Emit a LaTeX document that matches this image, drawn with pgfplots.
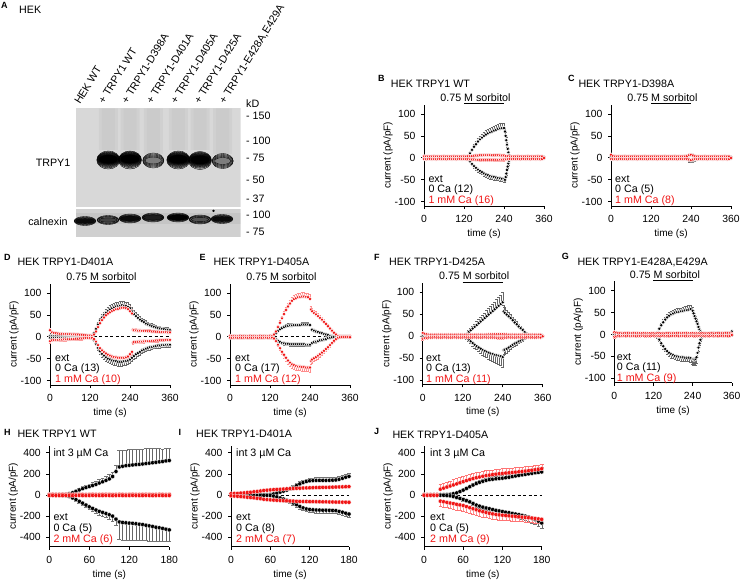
\documentclass[border=0pt]{standalone}
\usepackage{fontspec}
\setmainfont{Liberation Sans}
\usepackage{pgfplots}
\pgfplotsset{compat=1.18}
\usepackage{pgfplotstable}
\definecolor{blotbg}{RGB}{216,216,216}
\definecolor{blotbgb}{RGB}{208,208,208}
\definecolor{smear}{RGB}{200,200,200}
\definecolor{myred}{RGB}{240,20,20}
\newcommand{\fs}{\fontsize{10.7}{12.5}\selectfont}
\newcommand{\ft}{\fontsize{10.4}{12}\selectfont}
\newcommand{\fa}{\fontsize{10}{12}\selectfont}
\newcommand{\fl}{\fontsize{9}{10}\selectfont\bfseries}

\pgfplotsset{
 base/.style={scale only axis, anchor=south west, clip=false,
   axis x line*=bottom, axis y line*=left,
   axis line style={-, line width=0.6pt},
   tick align=outside, major tick length=3pt,
   tick style={line width=0.6pt, black},
   /pgf/number format/assume math mode=true,
   tick label style={font=\ft},
   xticklabel style={yshift=-3pt},
   yticklabel style={xshift=-2pt},
   every axis x label/.style={at={(axis description cs:0.5,0)}, yshift=-28pt, anchor=center, font=\fa},
   every axis y label/.style={at={(axis description cs:0,0.5)}, xshift=-36pt, rotate=90, anchor=center, font=\fa},
   xlabel={time (s)}, ylabel={current (pA/pF)}},
 sorb/.style={base, height=101.3pt, xmin=0, xmax=360, ymin=-110, ymax=121,
   xtick={0,120,240,360}, ytick={-100,-50,0,50,100}},
 ramp/.style={base, height=100.7pt, xmin=0, xmax=180, ymin=-489, ymax=463,
   xtick={0,60,120,180}, ytick={-400,-200,0,200,400}},
 blk/.style={only marks, mark=*, mark size=1.9pt, black,
   mark options={fill=black, draw=white, line width=0.45pt},
   error bars/y explicit,
   error bars/error bar style={black!60, line width=0.35pt},
   error bars/error mark options={rotate=90, black!60, line width=0.35pt, mark size=1.3pt}},
 rd/.style={only marks, mark=*, mark size=1.9pt, myred,
   mark options={fill=myred, draw=white, line width=0.45pt},
   error bars/y explicit,
   error bars/error bar style={red!45, line width=0.35pt},
   error bars/error mark options={rotate=90, red!45, line width=0.35pt, mark size=1.3pt}},
 blkr/.style={blk, mark size=2.1pt, mark options={fill=black, draw=white, line width=0.25pt}, error bars/error mark options={rotate=90, black!55, line width=0.35pt, mark size=1.8pt}},
 rdr/.style={rd, mark size=2.1pt, mark options={fill=myred, draw=white, line width=0.25pt}, error bars/error mark options={rotate=90, red!55, line width=0.35pt, mark size=1.8pt}},
 bl/.style n args={3}{only marks, mark=*, black, mark size=#1, mark options={xscale=#2, draw=none, fill=black, fill opacity=#3}},
}

\newcommand{\plotpair}[4]{%
\addplot[#3, error bars/y dir=plus] table[x=t,y=u,y error=ue]{#1};
\addplot[#3, error bars/y dir=minus] table[x=t,y=d,y error=de]{#1};
\addplot[#4, error bars/y dir=plus] table[x=t,y=u,y error=ue]{#2};
\addplot[#4, error bars/y dir=minus] table[x=t,y=d,y error=de]{#2};
}
\newcommand{\sorbbar}{%
\addplot[black, line width=1pt, no marks] coordinates {(120,123) (240,123)};
\node[font=\fs, anchor=base west, inner sep=0pt, xshift=-23.8pt, yshift=2.5pt] at (axis cs:120,123) {0.75 M sorbitol};
}
\newcommand{\zeroline}[1]{\addplot[black, line width=0.7pt, no marks, dash pattern=on 3pt off 2.5pt] coordinates {(0,0) (#1,0)};}

% ---------------- data ----------------
\pgfplotstableread{
t u ue d de
0 1.5 2 -1.5 2
6 1.2 2 -1.4 2
12 1.4 2 -1.3 2
18 1.3 2 -1.5 2
24 1.5 2 -1.2 2
30 1.2 2 -1.4 2
36 1.4 2 -1.3 2
42 1.3 2 -1.5 2
48 1.5 2 -1.2 2
54 1.2 2 -1.4 2
60 1.4 2 -1.3 2
66 1.3 2 -1.5 2
72 1.5 2 -1.2 2
78 1.2 2 -1.4 2
84 1.4 2 -1.3 2
90 1.3 2 -1.5 2
96 1.5 2 -1.2 2
102 1.2 2 -1.4 2
108 1.4 2 -1.3 2
114 1.3 2 -1.5 2
120 1.5 2 -1.2 2
126 2 2 -2 2
132 3 2 -3 2
138 10 3 -8 3
144 18 4 -14 4
150 25 5 -19 4
156 31 6 -23 5
162 37 7 -27 5
168 42 8 -30 5
174 46 8 -33 5
180 50 9 -36 6
186 53 9 -38 6
192 56 10 -40 6
198 58 10 -42 6
204 60 10 -43 6
210 62 10 -44 6
216 64 11 -45 6
222 66 11 -46 6
228 67 11 -47 6
234 68 11 -48 6
240 68 11 -49 6
243 60 10 -50 6
245 50 8 -44 5
247 40 6 -36 4
249 30 5 -28 4
251 20 4 -20 3
253 12 3 -13 3
255 6 2 -7 2
258 2 2 -2 2
264 1.5 2 -1.5 2
270 1.3 2 -1.3 2
276 1.4 2 -1.4 2
282 1.2 2 -1.3 2
288 1.4 2 -1.2 2
294 1.3 2 -1.4 2
300 1.2 2 -1.3 2
306 1.4 2 -1.2 2
312 1.3 2 -1.4 2
318 1.2 2 -1.3 2
324 1.4 2 -1.2 2
330 1.3 2 -1.4 2
336 1.2 2 -1.3 2
342 1.4 2 -1.2 2
348 1.3 2 -1.4 2
354 1.2 2 -1.3 2
360 1.0 2 -1.0 2
}\Bk
\pgfplotstableread{
t u ue d de
0 3.2 2 -3.0 2
6 3.0 2 -3.2 2
12 2.8 2 -3.0 2
18 3.1 2 -2.9 2
24 2.9 2 -3.1 2
30 3.2 2 -3.0 2
36 3.0 2 -3.2 2
42 2.8 2 -3.0 2
48 3.1 2 -2.9 2
54 2.9 2 -3.1 2
60 3.2 2 -3.0 2
66 3.0 2 -3.2 2
72 2.8 2 -3.0 2
78 3.1 2 -2.9 2
84 2.9 2 -3.1 2
90 3.2 2 -3.0 2
96 3.0 2 -3.2 2
102 2.8 2 -3.0 2
108 3.1 2 -2.9 2
114 2.9 2 -3.1 2
120 3.2 2 -3.0 2
126 3.0 2 -3.2 2
132 3.4 2 -3.4 2
138 3.8 2 -3.6 2
144 4.2 2 -3.8 2
150 4.6 3 -4.0 2
156 5.0 3 -4.2 2
162 5.3 3 -4.4 2
168 5.6 3 -4.5 3
174 5.8 3 -4.6 3
180 6.0 3 -4.6 3
186 6.0 3 -4.6 3
192 6.0 3 -4.6 3
198 6.0 3 -4.6 3
204 5.9 3 -4.6 3
210 5.8 3 -4.5 3
216 5.7 3 -4.5 3
222 5.6 3 -4.4 3
228 5.5 3 -4.3 3
234 5.3 3 -4.2 3
240 5.0 3 -4.0 3
246 4.2 2 -3.6 2
252 3.6 2 -3.2 2
258 3.2 2 -3.0 2
264 3.0 2 -3.1 2
270 3.1 2 -2.9 2
276 2.9 2 -3.1 2
282 3.2 2 -3.0 2
288 3.0 2 -3.2 2
294 2.8 2 -3.0 2
300 3.1 2 -2.9 2
306 2.9 2 -3.1 2
312 3.2 2 -3.0 2
318 3.0 2 -3.2 2
324 2.8 2 -3.0 2
330 3.1 2 -2.9 2
336 2.9 2 -3.1 2
342 3.2 2 -3.0 2
348 3.0 2 -3.2 2
354 2.8 2 -3.0 2
360 0.5 1 -0.5 1
}\Br
\pgfplotstableread{
t u ue d de
0 2.4 3 -2.2 3
6 2.2 3 -2.4 3
12 2.0 3 -2.2 3
18 2.3 3 -2.1 3
24 2.1 3 -2.3 3
30 2.4 3 -2.2 3
36 2.2 3 -2.4 3
42 2.0 3 -2.2 3
48 2.3 3 -2.1 3
54 2.1 3 -2.3 3
60 2.4 3 -2.2 3
66 2.2 3 -2.4 3
72 2.0 3 -2.2 3
78 2.3 3 -2.1 3
84 2.1 3 -2.3 3
90 2.4 3 -2.2 3
96 2.2 3 -2.4 3
102 2.0 3 -2.2 3
108 2.3 3 -2.1 3
114 2.1 3 -2.3 3
120 2.4 3 -2.2 3
126 2.2 3 -2.4 3
132 2.0 3 -2.2 3
138 2.3 3 -2.1 3
144 2.1 3 -2.3 3
150 2.4 3 -2.2 3
156 2.2 3 -2.4 3
162 2.0 3 -2.2 3
168 2.3 3 -2.1 3
174 2.1 3 -2.3 3
180 2.4 3 -2.2 3
186 2.2 3 -2.4 3
192 2.0 3 -2.2 3
198 2.3 3 -2.1 3
204 2.1 3 -2.3 3
210 2.4 3 -2.2 3
216 2.2 3 -2.4 3
222 2.5 3 -2.5 3
228 3 3 -3 3
234 5 4 -5 4
240 6 4 -6 4
246 5 4 -6 4
252 3 3 -4 3
258 2 2 -2 2
264 1.5 2 -1.5 2
270 1.4 2 -1.6 2
276 1.6 2 -1.4 2
282 1.5 2 -1.5 2
288 1.4 2 -1.6 2
294 1.6 2 -1.4 2
300 1.5 2 -1.5 2
306 1.4 2 -1.6 2
312 1.6 2 -1.4 2
318 1.5 2 -1.5 2
324 1.4 2 -1.6 2
330 1.6 2 -1.4 2
336 1.5 2 -1.5 2
342 1.4 2 -1.6 2
348 1.6 2 -1.4 2
354 1.5 2 -1.5 2
360 1.0 2 -1.0 2
}\Ck
\pgfplotstableread{
t u ue d de
0 7 2 -3 2
6 4 2 -3.5 2
12 3.2 2 -3.0 2
18 3.0 2 -3.2 2
24 2.8 2 -3.0 2
30 3.1 2 -2.9 2
36 2.9 2 -3.1 2
42 3.2 2 -3.0 2
48 3.0 2 -3.2 2
54 2.8 2 -3.0 2
60 3.1 2 -2.9 2
66 2.9 2 -3.1 2
72 3.2 2 -3.0 2
78 3.0 2 -3.2 2
84 2.8 2 -3.0 2
90 3.1 2 -2.9 2
96 2.9 2 -3.1 2
102 3.2 2 -3.0 2
108 3.0 2 -3.2 2
114 2.8 2 -3.0 2
120 3.1 2 -2.9 2
126 2.9 2 -3.1 2
132 3.2 2 -3.0 2
138 3.0 2 -3.2 2
144 2.8 2 -3.0 2
150 3.1 2 -2.9 2
156 2.9 2 -3.1 2
162 3.2 2 -3.0 2
168 3.0 2 -3.2 2
174 2.8 2 -3.0 2
180 3.1 2 -2.9 2
186 2.9 2 -3.1 2
192 3.2 2 -3.0 2
198 3.0 2 -3.2 2
204 2.8 2 -3.0 2
210 3.1 2 -2.9 2
216 2.9 2 -3.1 2
222 3.2 2 -3.0 2
228 4 2 -3.5 2
234 6 3 -4 3
240 7 3 -5 3
246 5 3 -4 3
252 3.5 2 -3 2
258 3.0 2 -3.2 2
264 2.8 2 -3.0 2
270 3.1 2 -2.9 2
276 2.9 2 -3.1 2
282 3.2 2 -3.0 2
288 3.0 2 -3.2 2
294 2.8 2 -3.0 2
300 3.1 2 -2.9 2
306 2.9 2 -3.1 2
312 3.2 2 -3.0 2
318 3.0 2 -3.2 2
324 2.8 2 -3.0 2
330 3.1 2 -2.9 2
336 2.9 2 -3.1 2
342 3.2 2 -3.0 2
348 3.0 2 -3.2 2
354 2.8 2 -3.0 2
360 0.5 1 -0.5 1
}\Cr
\pgfplotstableread{
t u ue d de
0 2 2 -2 2
6 2 2 -2 2
12 2 2 -2 2
18 2 2 -2 2
24 2 2 -2 2
30 2 2 -2 2
36 2 2 -2 2
42 2 2 -2 2
48 2 2 -2 2
54 2 2 -2 2
60 2 2 -2 2
66 2 2 -2 2
72 2 2 -2 2
78 2 2 -2 2
84 2 2 -2 2
90 2 2 -2 2
96 2 2 -2 2
102 2 2 -2 2
108 2 2 -2 2
114 2 2 -2 2
120 2 2 -2 2
126 3 2 -3 2
132 8 3 -8 3
138 18 4 -16 4
144 28 5 -25 5
150 37 6 -33 6
156 44 7 -39 7
162 50 7 -43 7
168 55 8 -47 8
174 59 8 -50 8
180 62 9 -52 8
186 65 9 -54 9
192 67 9 -55 9
198 69 9 -56 9
204 70 10 -57 9
210 71 10 -57 9
216 72 10 -57 9
222 71 10 -56 9
228 70 10 -55 9
234 68 10 -54 9
240 65 10 -52 9
246 58 9 -48 8
252 52 9 -44 8
258 47 8 -40 8
264 43 8 -37 7
270 39 8 -34 7
276 36 7 -31 7
282 33 7 -29 6
288 30 7 -27 6
294 28 6 -25 6
300 26 6 -24 6
306 24 6 -23 5
312 23 6 -22 5
318 21 5 -21 5
324 20 5 -20 5
330 19 5 -20 5
336 18 5 -19 5
342 17 5 -19 5
348 16 5 -18 5
354 16 5 -18 5
360 15 5 -18 5
}\Dk
\pgfplotstableread{
t u ue d de
0 15 4 -10 4
6 10 3 -8 3
12 8.5 3 -7.5 3
18 8 3 -7 3
24 7.5 3 -7 3
30 7 3 -6.5 3
36 7 3 -6.5 3
42 6.5 3 -6 3
48 6.5 3 -6 3
54 6 3 -5.5 3
60 6 3 -5.5 3
66 5.5 3 -5 3
72 5.5 3 -5 3
78 5 3 -4.5 3
84 5 3 -4.5 3
90 4.5 3 -4 3
96 4.5 3 -4 3
102 4 3 -3.5 3
108 3.5 3 -3 3
114 3 3 -3 3
120 3 3 -2.5 3
126 2.5 3 -2.5 3
132 5 3 -5 3
138 12 4 -11 4
144 22 5 -19 4
150 31 6 -26 5
156 38 7 -31 5
162 44 7 -35 6
168 49 8 -38 6
174 53 8 -41 6
180 56 8 -43 7
186 59 9 -45 7
192 61 9 -46 7
198 63 9 -47 7
204 64 9 -48 7
210 65 9 -48 7
216 66 9 -48 7
222 66 9 -48 7
228 65 9 -47 7
234 63 10 -45 7
240 58 12 -40 8
246 53 10 -34 8
249 16 4 -13 3
252 15 4 -12 3
258 14.5 4 -12 3
264 14 4 -11.5 3
270 14 4 -11 3
276 13.5 4 -11 3
282 13 4 -10.5 3
288 13 4 -10 3
294 12.5 4 -10 3
300 12.5 4 -9.5 3
306 12 4 -9 3
312 12 4 -9 3
318 11.5 4 -8.5 3
324 11.5 4 -8.5 3
330 11 4 -8 3
336 11 4 -8 3
342 10.5 4 -8 3
348 10.5 4 -7.5 3
354 10 4 -7.5 3
360 10 4 -7 3
}\Dr
\pgfplotstableread{
t u ue d de
0 1.5 2 -1.5 2
6 1.5 2 -1.5 2
12 1.5 2 -1.5 2
18 1.5 2 -1.5 2
24 1.5 2 -1.5 2
30 1.5 2 -1.5 2
36 1.5 2 -1.5 2
42 1.5 2 -1.5 2
48 1.5 2 -1.5 2
54 1.5 2 -1.5 2
60 1.5 2 -1.5 2
66 1.5 2 -1.5 2
72 1.5 2 -1.5 2
78 1.5 2 -1.5 2
84 1.5 2 -1.5 2
90 1.5 2 -1.5 2
96 1.5 2 -1.5 2
102 1.5 2 -1.5 2
108 1.5 2 -1.5 2
114 1.5 2 -1.5 2
120 1.5 2 -1.5 2
126 2 2 -2 2
132 4 2 -3 2
138 8 3 -6 2
144 13 3 -9 3
150 17 4 -12 3
156 20 4 -14 3
162 22 5 -15 4
168 24 5 -16 4
174 25 5 -16 4
180 26 5 -17 4
186 26 5 -17 4
192 27 5 -17 4
198 27 5 -17 4
204 27 5 -17 4
210 27 5 -17 4
216 28 5 -17 4
222 28 5 -17 4
228 28 5 -18 4
234 28 5 -18 4
240 27 5 -18 4
246 16 4 -14 3
252 14 4 -12 3
258 12 3 -11 3
264 11 3 -10 3
270 9 3 -8 3
276 8 3 -7 2
282 6 2 -6 2
288 5 2 -5 2
294 4 2 -3 2
300 2 2 -2 2
306 1 2 -1 2
312 0.5 2 -0.5 2
318 0.5 2 -0.5 2
324 0.5 2 -0.5 2
330 0.5 2 -0.5 2
336 0.5 2 -0.5 2
342 0.5 2 -0.5 2
348 0.5 2 -0.5 2
354 0.5 2 -0.5 2
360 0.5 2 -0.5 2
}\Ek
\pgfplotstableread{
t u ue d de
0 2.2 2 -2.0 2
6 2.0 2 -2.2 2
12 1.8 2 -2.0 2
18 2.1 2 -1.9 2
24 1.9 2 -2.1 2
30 2.2 2 -2.0 2
36 2.0 2 -2.2 2
42 1.8 2 -2.0 2
48 2.1 2 -1.9 2
54 1.9 2 -2.1 2
60 2.2 2 -2.0 2
66 2.0 2 -2.2 2
72 1.8 2 -2.0 2
78 2.1 2 -1.9 2
84 1.9 2 -2.1 2
90 2.2 2 -2.0 2
96 2.0 2 -2.2 2
102 1.8 2 -2.0 2
108 2.1 2 -1.9 2
114 1.9 2 -2.1 2
120 2.2 2 -2.0 2
126 2 2 -2 2
132 5 2 -4 2
138 12 3 -10 3
144 22 4 -18 4
150 32 5 -26 5
156 42 6 -34 6
162 52 7 -41 7
168 61 7 -48 7
174 69 8 -54 8
180 76 8 -59 8
186 82 9 -63 8
192 86 9 -65 9
198 88 9 -67 9
204 90 9 -68 9
210 91 9 -68 9
216 92 9 -69 9
222 92 9 -69 9
228 91 9 -70 9
234 90 9 -70 9
240 86 10 -70 10
243 62 8 -55 8
246 58 8 -52 8
252 54 7 -49 7
258 51 7 -46 7
264 47 7 -43 7
270 43 6 -40 6
276 39 6 -36 6
282 34 6 -32 6
288 29 5 -28 5
294 24 5 -24 5
300 19 4 -19 4
306 14 4 -14 4
312 9 3 -9 3
318 5 3 -5 3
324 2 2 -2 2
330 1 2 -1 2
336 0.5 2 -0.5 2
342 0.5 2 -0.5 2
348 0.5 2 -0.5 2
354 0.5 2 -0.5 2
360 1 2 -1 2
}\Er
\pgfplotstableread{
t u ue d de
0 1 2 -1 2
6 1 2 -1 2
12 1 2 -1 2
18 1 2 -1 2
24 1 2 -1 2
30 1 2 -1 2
36 1 2 -1 2
42 1 2 -1 2
48 1 2 -1 2
54 1 2 -1 2
60 1 2 -1 2
66 1 2 -1 2
72 1 2 -1 2
78 1 2 -1 2
84 1 2 -1 2
90 1 2 -1 2
96 1 2 -1 2
102 1 2 -1 2
108 1 2 -1 2
114 1 2 -1 2
120 1 2 -1 2
126 1.5 2 -1.5 2
132 4 3 -4 3
138 9 4 -8 4
144 13 5 -12 5
150 17 6 -16 6
156 21 7 -20 7
162 25 8 -23 8
168 29 9 -26 9
174 33 10 -29 10
180 37 11 -32 11
186 41 12 -34 12
192 45 13 -36 13
198 49 14 -38 14
204 53 15 -40 15
210 57 16 -41 16
216 61 17 -43 17
222 65 18 -44 18
228 69 20 -45 19
234 73 21 -46 20
240 77 22 -48 22
243 56 14 -32 12
246 53 12 -31 10
252 49 11 -29 9
258 45 10 -26 8
264 41 9 -23 7
270 36 8 -20 6
276 31 7 -17 5
282 27 6 -15 5
288 22 5 -12 4
294 18 4 -10 4
300 14 4 -8 3
306 9 3 -5 3
312 5 3 -3 2
318 2 2 -1.5 2
324 1 2 -1 2
330 1 2 -1 2
336 1 2 -1 2
342 1 2 -1 2
348 1 2 -1 2
354 1 2 -1 2
360 1 2 -1 2
}\Fk
\pgfplotstableread{
t u ue d de
0 7 3 -6 3
6 5 2 -4.5 2
12 4 2 -4 2
18 3.2 2 -3.0 2
24 3.0 2 -3.2 2
30 2.8 2 -3.0 2
36 3.1 2 -2.9 2
42 2.9 2 -3.1 2
48 3.2 2 -3.0 2
54 3.0 2 -3.2 2
60 2.8 2 -3.0 2
66 3.1 2 -2.9 2
72 2.9 2 -3.1 2
78 3.2 2 -3.0 2
84 3.0 2 -3.2 2
90 2.8 2 -3.0 2
96 3.1 2 -2.9 2
102 2.9 2 -3.1 2
108 3.2 2 -3.0 2
114 3.0 2 -3.2 2
120 2.8 2 -3.0 2
126 3.1 2 -2.9 2
132 2.9 2 -3.1 2
138 3.2 2 -3.0 2
144 3.0 2 -3.2 2
150 2.8 2 -3.0 2
156 3.1 2 -2.9 2
162 2.9 2 -3.1 2
168 3.2 2 -3.0 2
174 3.0 2 -3.2 2
180 2.8 2 -3.0 2
186 3.1 2 -2.9 2
192 3.2 2 -3.1 2
198 3.4 2 -3.2 2
204 3.6 2 -3.3 2
210 3.8 2 -3.4 2
216 4.0 2 -3.5 2
222 4.2 3 -3.6 2
228 4.3 3 -3.7 3
234 4.3 3 -3.7 3
240 4.2 3 -3.6 3
246 3.8 2 -3.4 2
252 3.4 2 -3.2 2
258 3.1 2 -2.9 2
264 2.9 2 -3.1 2
270 3.2 2 -3.0 2
276 3.0 2 -3.2 2
282 2.8 2 -3.0 2
288 3.1 2 -2.9 2
294 2.9 2 -3.1 2
300 3.2 2 -3.0 2
306 3.0 2 -3.2 2
312 2.8 2 -3.0 2
318 3.1 2 -2.9 2
324 2.9 2 -3.1 2
330 3.2 2 -3.0 2
336 3.0 2 -3.2 2
342 2.8 2 -3.0 2
348 3.1 2 -2.9 2
354 2.9 2 -3.1 2
360 0.5 1 -0.5 1
}\Fr
\pgfplotstableread{
t u ue d de
0 1 2 -1 2
6 1 2 -1 2
12 1 2 -1 2
18 1 2 -1 2
24 1 2 -1 2
30 1 2 -1 2
36 1 2 -1 2
42 1 2 -1 2
48 1 2 -1 2
54 1 2 -1 2
60 1 2 -1 2
66 1 2 -1 2
72 1 2 -1 2
78 1 2 -1 2
84 1 2 -1 2
90 1 2 -1 2
96 1 2 -1 2
102 1 2 -1 2
108 1 2 -1 2
114 1 2 -1 2
120 1 2 -1 2
126 1.5 2 -1.5 2
132 5 3 -5 3
138 13 4 -12 4
144 21 5 -20 5
150 28 6 -27 6
156 34 6 -33 6
162 39 7 -38 7
168 43 7 -42 7
174 46 8 -45 8
180 48 8 -47 8
186 50 8 -49 8
192 51 8 -50 8
198 52 8 -51 8
204 53 8 -52 8
210 54 8 -52 8
216 55 9 -53 9
222 56 9 -53 9
228 57 9 -53 9
234 58 9 -54 10
240 54 9 -56 12
243 48 8 -57 13
246 42 7 -57 14
249 36 6 -56 15
252 30 5 -52 14
255 24 4 -42 10
258 17 3 -30 7
261 11 3 -20 5
264 7 3 -12 4
267 4 3 -6 3
270 3 3 -3 3
276 3 3 -2 3
282 3 3 -2 3
288 3 3 -2 3
294 3 3 -2 3
300 3 3 -2 3
306 3 3 -2 3
312 3 3 -2 3
318 3 3 -2 3
324 3 3 -2 3
330 3 3 -2 3
336 3 3 -2 3
342 3 3 -2 3
348 3 3 -2 3
354 3 3 -2 3
360 7 3 -1 3
}\Gk
\pgfplotstableread{
t u ue d de
0 5 3 -5 3
6 4 2 -4 2
12 3.2 2 -3.0 2
18 3.0 2 -3.2 2
24 2.8 2 -3.0 2
30 3.1 2 -2.9 2
36 2.9 2 -3.1 2
42 3.2 2 -3.0 2
48 3.0 2 -3.2 2
54 2.8 2 -3.0 2
60 3.1 2 -2.9 2
66 2.9 2 -3.1 2
72 3.2 2 -3.0 2
78 3.0 2 -3.2 2
84 2.8 2 -3.0 2
90 3.1 2 -2.9 2
96 2.9 2 -3.1 2
102 3.2 2 -3.0 2
108 3.0 2 -3.2 2
114 2.8 2 -3.0 2
120 3.1 2 -2.9 2
126 2.9 2 -3.1 2
132 3.2 2 -3.0 2
138 3.0 2 -3.2 2
144 2.8 2 -3.0 2
150 3.1 2 -2.9 2
156 2.9 2 -3.1 2
162 3.2 2 -3.0 2
168 3.0 2 -3.2 2
174 2.8 2 -3.0 2
180 3.1 2 -2.9 2
186 2.9 2 -3.1 2
192 3.2 2 -3.0 2
198 3.0 2 -3.2 2
204 2.8 2 -3.0 2
210 3.1 2 -2.9 2
216 2.9 2 -3.1 2
222 3.2 2 -3.0 2
228 3.0 2 -3.2 2
234 2.8 2 -3.0 2
240 3.1 2 -2.9 2
246 2.9 2 -3.1 2
252 3.2 2 -3.0 2
258 3.0 2 -3.2 2
264 2.8 2 -3.0 2
270 3.1 2 -2.9 2
276 2.9 2 -3.1 2
282 3.2 2 -3.0 2
288 3.0 2 -3.2 2
294 2.8 2 -3.0 2
300 3.1 2 -2.9 2
306 2.9 2 -3.1 2
312 3.2 2 -3.0 2
318 3.0 2 -3.2 2
324 2.8 2 -3.0 2
330 3.1 2 -2.9 2
336 2.9 2 -3.1 2
342 3.2 2 -3.0 2
348 3.0 2 -3.2 2
354 2.8 2 -3.0 2
360 2 1 -1 1
}\Gr
\pgfplotstableread{
t u ue d de
0 2 3 -2 3
5 2 3 -2 3
10 3 3 -3 3
15 3 3 -3 3
20 4 4 -4 4
25 5 5 -5 5
30 12 8 -14 8
35 22 12 -28 12
40 35 15 -44 15
45 48 18 -60 18
50 60 20 -77 20
55 70 22 -95 22
60 80 25 -112 25
65 90 27 -127 27
70 100 30 -142 30
75 113 32 -155 32
80 125 35 -165 35
85 138 38 -175 38
90 152 40 -187 40
95 175 45 -200 45
100 222 60 -228 60
105 265 155 -255 165
110 272 150 -260 165
115 277 150 -263 165
120 281 150 -266 160
125 284 150 -268 160
130 287 148 -272 155
135 290 146 -276 150
140 293 144 -280 150
145 297 142 -286 145
150 301 140 -292 140
155 305 135 -298 135
160 309 130 -305 130
165 313 125 -310 125
170 317 120 -316 120
175 322 118 -323 115
180 326 115 -330 110
}\Hk
\pgfplotstableread{
t u ue d de
0 5 3 -5 3
5 6 3 -4 3
10 5 3 -5 3
15 4 3 -6 3
20 5 3 -5 3
25 6 3 -4 3
30 5 3 -5 3
35 4 3 -6 3
40 5 3 -5 3
45 6 3 -4 3
50 5 3 -5 3
55 4 3 -6 3
60 5 3 -5 3
65 6 3 -4 3
70 5 3 -5 3
75 4 3 -6 3
80 5 3 -5 3
85 6 3 -4 3
90 5 3 -5 3
95 4 3 -6 3
100 5 3 -5 3
105 6 3 -4 3
110 5 3 -5 3
115 4 3 -6 3
120 5 3 -5 3
125 6 3 -4 3
130 5 3 -5 3
135 4 3 -6 3
140 5 3 -5 3
145 6 3 -4 3
150 5 3 -5 3
155 4 3 -6 3
160 5 3 -5 3
165 6 3 -4 3
170 5 3 -5 3
175 4 3 -6 3
180 5 3 -5 3
}\Hr
\pgfplotstableread{
t u ue d de
0 3 3 -3 3
5 3 3 -3 3
10 3 3 -3 3
15 3 3 -3 3
20 3 3 -3 3
25 3 3 -3 3
30 3 3 -3 3
35 3 3 -3 3
40 3 3 -3 3
45 3 3 -3 3
50 3 3 -3 3
55 3 3 -3 3
60 5 4 -5 4
65 10 6 -10 6
70 18 8 -18 8
75 27 10 -28 10
80 36 12 -38 12
85 46 14 -50 14
90 58 16 -62 16
95 72 18 -76 18
100 88 20 -92 20
105 105 22 -108 22
110 118 24 -122 24
115 128 25 -132 25
120 134 26 -137 26
125 137 26 -140 26
130 138 26 -142 26
135 138 26 -143 26
140 138 26 -144 26
145 138 26 -144 26
150 139 26 -145 26
155 140 26 -146 26
160 142 26 -148 26
165 148 26 -155 26
170 158 26 -163 26
175 168 27 -172 27
180 176 28 -180 28
}\Ik
\pgfplotstableread{
t u ue d de
0 12 6 -8 6
5 14 6 -10 6
10 15 6 -12 6
15 18 6 -15 6
20 20 6 -18 6
25 23 6 -21 6
30 26 6 -24 6
35 30 6 -27 6
40 33 6 -31 6
45 38 6 -35 6
50 42 6 -40 6
55 45 6 -43 6
60 48 6 -46 6
65 50 6 -48 6
70 52 6 -50 6
75 54 6 -52 6
80 56 6 -54 6
85 58 6 -55 6
90 60 6 -57 6
95 61 6 -58 6
100 63 6 -60 6
105 64 6 -61 6
110 66 6 -62 6
115 67 6 -62 6
120 68 6 -63 6
125 69 6 -63 6
130 70 6 -64 6
135 71 6 -64 6
140 72 6 -65 6
145 72 6 -65 6
150 73 6 -66 6
155 74 6 -66 6
160 75 6 -67 6
165 76 6 -67 6
170 77 6 -68 6
175 78 6 -68 6
180 79 6 -69 6
}\Ir
\pgfplotstableread{
t u ue d de
0 2 3 -2 3
5 2 3 -2 3
10 2 3 -2 3
15 2 3 -2 3
20 2 3 -2 3
25 2 3 -2 3
30 3 3 -3 3
35 4 4 -5 4
40 6 5 -8 5
45 12 7 -15 7
50 20 9 -24 9
55 32 11 -32 11
60 46 13 -42 13
65 62 15 -53 15
70 78 17 -65 17
75 94 18 -80 18
80 108 20 -95 20
85 120 21 -105 21
90 130 22 -115 22
95 138 23 -123 23
100 145 24 -130 24
105 149 25 -138 25
110 153 26 -145 26
115 156 27 -151 27
120 159 28 -157 28
125 163 29 -163 29
130 168 30 -168 30
135 174 31 -174 31
140 180 32 -180 32
145 185 34 -186 34
150 190 36 -193 36
155 195 38 -200 38
160 200 40 -209 40
165 205 42 -220 42
170 210 44 -233 44
175 214 46 -248 46
180 218 48 -265 48
}\Jk
\pgfplotstableread{
t u ue d de
0 3 3 -3 3
5 3 3 -3 3
10 3 3 -3 3
15 3 3 -3 3
20 4 4 -4 4
25 55 45 -58 45
30 65 48 -64 48
35 75 50 -70 50
40 85 50 -76 50
45 95 52 -82 52
50 105 52 -88 52
55 115 52 -94 52
60 126 52 -100 52
65 136 52 -110 52
70 146 52 -120 52
75 155 50 -130 50
80 163 50 -140 50
85 170 50 -150 50
90 177 48 -158 48
95 183 48 -166 48
100 188 48 -173 48
105 193 46 -179 46
110 197 46 -184 46
115 201 46 -188 46
120 204 45 -191 45
125 207 45 -194 45
130 210 45 -197 45
135 213 44 -200 44
140 216 44 -203 44
145 219 44 -206 44
150 222 43 -209 43
155 226 43 -212 43
160 230 42 -215 42
165 234 42 -218 42
170 238 41 -222 41
175 243 40 -226 40
180 248 40 -230 40
}\Jr

\begin{document}
\begin{tikzpicture}
\path[use as bounding box] (0,0) rectangle (740pt,-581pt);

% ================= Panel A: blot =================
\node[font=\fl, anchor=west, inner sep=0pt] at (1pt,-5.7pt) {A};
\node[font=\fs, anchor=west, inner sep=0pt] at (19pt,-10pt) {HEK};
\foreach \x/\lab in {80/{HEK WT}, 104/{+ TRPY1 WT}, 127.3/{+ TRPY1-D398A}, 152/{+ TRPY1-D401A}, 176.3/{+ TRPY1-D405A}, 199.7/{+ TRPY1-D425A}, 224.7/{+ TRPY1-E428A,E429A}}{
  \node[font=\fs, anchor=base west, inner sep=0pt, rotate=58.5] at (\x pt,-105pt) {\lab};
}
\begin{axis}[at={(76pt,-206.7pt)}, anchor=south west, scale only axis, width=164.7pt, height=98.4pt,
  xmin=76, xmax=240.7, ymin=-206.7, ymax=-108.3, axis lines=none, ticks=none]
\addplot[fill=blotbg, draw=none] coordinates {(76,-206.7) (240.7,-206.7) (240.7,-108.3) (76,-108.3)};
\addplot[ybar, bar width=19pt, fill=smear, draw=none, fill opacity=0.45] coordinates {(108.3,-150) (130,-150) (153.3,-154) (178.3,-150) (200,-150) (222.7,-154)};
\addplot[ybar, bar width=13pt, fill=smear, draw=none, fill opacity=0.5] coordinates {(108.3,-150) (130,-150) (153.3,-154) (178.3,-150) (200,-150) (222.7,-154)};
% dark bands: soft layers
\addplot[bl={9pt}{1.28}{0.1}] coordinates {(108.3,-160) (130,-160) (178.3,-160) (200,-160.5)};
\addplot[bl={8pt}{1.4}{0.15}] coordinates {(108.3,-159.8) (130,-159.6) (178.3,-159.8) (200,-160.2)};
\addplot[bl={7.2pt}{1.52}{0.2}] coordinates {(108.3,-159.6) (130,-159.4) (178.3,-159.6) (200,-160)};
\addplot[bl={6.5pt}{1.65}{0.25}] coordinates {(108.3,-159.4) (130,-159.2) (178.3,-159.4) (200,-159.9)};
\addplot[bl={5.8pt}{1.8}{0.3}] coordinates {(108.3,-159.3) (130,-159) (178.3,-159.3) (200,-159.8)};
\addplot[bl={5.1pt}{1.95}{0.45}] coordinates {(108.3,-159.3) (130,-159) (178.3,-159.3) (200,-159.8)};
\addplot[bl={4.4pt}{2.15}{1}] coordinates {(108.3,-159.3) (130,-159) (178.3,-159.3) (200,-159.8)};
% light bands
\addplot[bl={7.5pt}{1.4}{0.06}] coordinates {(153.3,-160.5) (222.7,-161)};
\addplot[bl={6.5pt}{1.6}{0.08}] coordinates {(153.3,-160.5) (222.7,-161)};
\addplot[bl={5.5pt}{1.8}{0.1}] coordinates {(153.3,-160.5) (222.7,-161)};
\addplot[bl={4.5pt}{2.0}{0.12}] coordinates {(153.3,-160.5) (222.7,-161)};
\addplot[bl={3.5pt}{2.3}{0.14}] coordinates {(153.3,-160.5) (222.7,-161)};
\end{axis}
\begin{axis}[at={(76pt,-237.3pt)}, anchor=south west, scale only axis, width=164.7pt, height=28pt,
  xmin=76, xmax=240.7, ymin=-237.3, ymax=-209.3, axis lines=none, ticks=none]
\addplot[fill=blotbgb, draw=none] coordinates {(76,-237.3) (240.7,-237.3) (240.7,-209.3) (76,-209.3)};
\addplot[fill=black, fill opacity=0.05, draw=none] coordinates {(76,-224) (240.7,-224) (240.7,-213) (76,-213)};
\addplot[bl={4.5pt}{2.4}{0.1}] coordinates {(85,-221) (108,-220) (130,-218.5) (153,-217.5) (178,-217.5) (200,-219.5) (222,-219)};
\addplot[bl={3.8pt}{2.8}{0.15}] coordinates {(85,-221) (108,-220) (130,-218.5) (153,-217.5) (178,-217.5) (200,-219.5) (222,-219)};
\addplot[bl={3.2pt}{3.2}{0.2}] coordinates {(85,-221) (108,-220) (130,-218.5) (153,-217.5) (178,-217.5) (200,-219.5) (222,-219)};
\addplot[bl={2.6pt}{3.7}{0.9}] coordinates {(85,-221) (130,-218.5) (222,-219)};
\addplot[bl={2.6pt}{3.7}{0.75}] coordinates {(153,-217.5)};
\addplot[bl={2.9pt}{3.4}{1}] coordinates {(178,-217.5)};
\addplot[bl={2.2pt}{4.0}{0.45}] coordinates {(108,-220)};
\addplot[bl={2.2pt}{4.0}{0.3}] coordinates {(200,-219.5)};
\addplot[bl={1pt}{1}{1}] coordinates {(213.5,-210.8)};
\end{axis}
\node[font=\fs, anchor=center, inner sep=0pt] at (53pt,-162.7pt) {TRPY1};
\node[font=\fs, anchor=center, inner sep=0pt] at (48pt,-221.7pt) {calnexin};
\foreach \y/\lab in {104/kD, 116/- 150, 140.7/- 100, 157.7/- 75, 180/- 50, 199.3/- 37, 215/- 100, 232.3/- 75}{
  \node[font=\fs, anchor=west, inner sep=0pt] at (246pt,-\y pt) {\lab};
}

% ================= Panel B =================
\begin{axis}[sorb, width=120pt, at={(424pt,-206pt)}]
\plotpair{\Bk}{\Br}{blk}{rd}
\sorbbar
\end{axis}
% ================= Panel C =================
\begin{axis}[sorb, width=120pt, at={(611pt,-206pt)}]
\plotpair{\Ck}{\Cr}{blk}{rd}
\sorbbar
\end{axis}
% ================= Panel D =================
\begin{axis}[sorb, width=120pt, at={(50pt,-385pt)}]
\zeroline{360}
\plotpair{\Dk}{\Dr}{blk}{rd}
\sorbbar
\end{axis}
% ================= Panel E =================
\begin{axis}[sorb, width=120pt, at={(230pt,-385pt)}]
\zeroline{360}
\plotpair{\Ek}{\Er}{blk}{rd}
\sorbbar
\end{axis}
% ================= Panel F =================
\begin{axis}[sorb, width=120pt, at={(422.7pt,-384.3pt)}]
\plotpair{\Fk}{\Fr}{blk}{rd}
\sorbbar
\end{axis}
% ================= Panel G =================
\begin{axis}[sorb, width=117.5pt, at={(614.3pt,-382.7pt)}]
\plotpair{\Gk}{\Gr}{blk}{rd}
\sorbbar
\end{axis}
% ================= Panel H =================
\begin{axis}[ramp, width=120pt, at={(49.3pt,-546.7pt)}]
\plotpair{\Hk}{\Hr}{blkr}{rdr}
\end{axis}
% ================= Panel I =================
\begin{axis}[ramp, width=118pt, at={(231pt,-546.7pt)}]
\zeroline{180}
\plotpair{\Ik}{\Ir}{blkr}{rdr}
\end{axis}
% ================= Panel J =================
\begin{axis}[ramp, width=117.7pt, at={(424pt,-546.7pt)}]
\zeroline{180}
\plotpair{\Jk}{\Jr}{blkr}{rdr}
\end{axis}

% ================= titles =================
\foreach \lx/\ly/\tx/\ty/\L/\T in {
  378/78.5/390.7/83.5/B/{HEK TRPY1 WT},
  568/78.5/578.3/83.5/C/{HEK TRPY1-D398A},
  4/257.3/17.3/262.3/D/{HEK TRPY1-D401A},
  199.3/257/213.3/262.3/E/{HEK TRPY1-D405A},
  374/257.3/389/262.3/F/{HEK TRPY1-D425A},
  561.7/256.7/577.3/262.3/G/{HEK TRPY1-E428A,E429A},
  4/432.7/17.3/434/H/{HEK TRPY1 WT},
  178.3/432/196/434/I/{HEK TRPY1-D401A},
  374/431.7/392.3/435/J/{HEK TRPY1-D405A}}{
  \node[font=\fl, anchor=west, inner sep=0pt] at (\lx pt,-\ly pt) {\L};
  \node[font=\fs, anchor=west, inner sep=0pt] at (\tx pt,-\ty pt) {\T};
}

% ================= legends =================
\foreach \x/\ya/\yb/\yc/\na/\nb in {
  428.3/179.3/190/201/12/16,
  615/179.3/190/201/5/8,
  55/358.3/369/380/13/10,
  235/358.3/369/380/17/12,
  426/358.3/369/379.3/13/11,
  616.7/357.3/367.7/378.3/11/9}{
  \node[font=\fs, anchor=west, inner sep=0pt] at (\x pt,-\ya pt) {ext};
  \node[font=\fs, anchor=west, inner sep=0pt] at (\x pt,-\yb pt) {0 Ca (\na)};
  \node[font=\fs, anchor=west, inner sep=0pt, text=myred] at (\x pt,-\yc pt) {1 mM Ca (\nb)};
}
\foreach \x/\na/\nb in {53.3/5/6, 236/8/7, 430/5/9}{
  \node[font=\fs, anchor=west, inner sep=0pt] at (\x pt,-453.3pt) {int 3 µM Ca};
  \node[font=\fs, anchor=west, inner sep=0pt] at (\x pt,-516.7pt) {ext};
  \node[font=\fs, anchor=west, inner sep=0pt] at (\x pt,-528.3pt) {0 Ca (\na)};
  \node[font=\fs, anchor=west, inner sep=0pt, text=myred] at (\x pt,-539.3pt) {2 mM Ca (\nb)};
}
\end{tikzpicture}
\end{document}
